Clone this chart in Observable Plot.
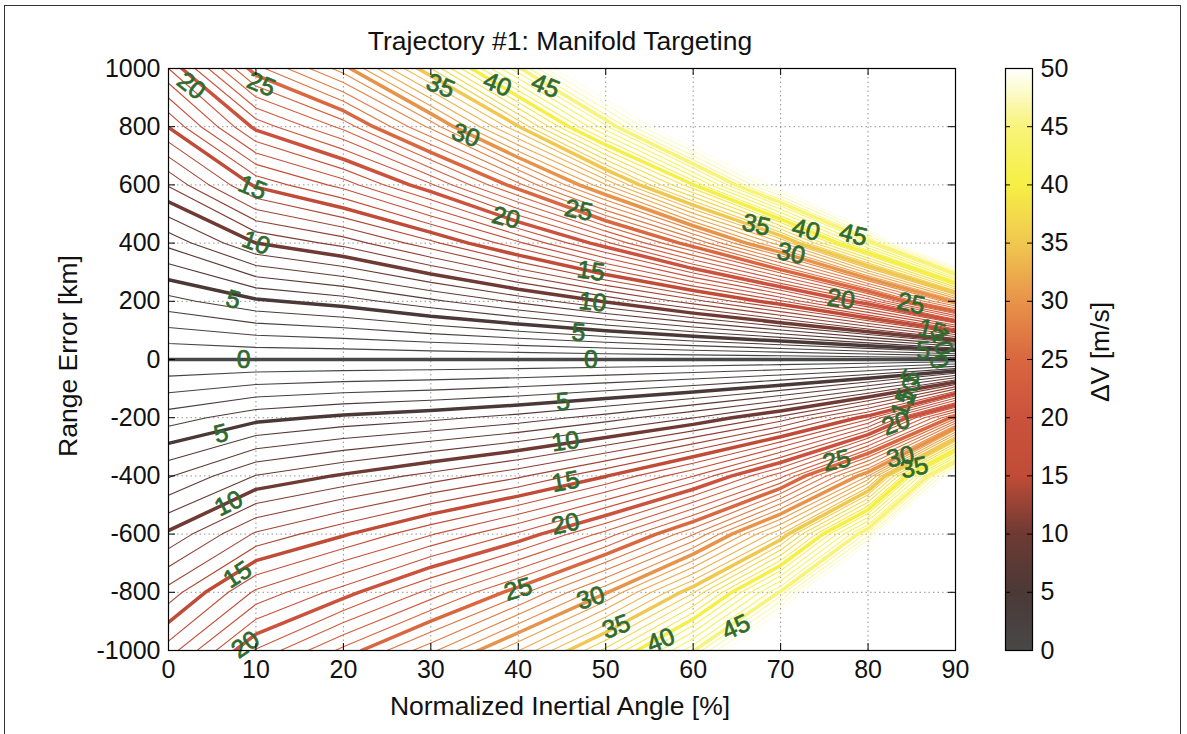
<!DOCTYPE html>
<html>
<head>
<meta charset="utf-8">
<script src="https://cdn.jsdelivr.net/npm/d3@7"></script>
<script src="https://cdn.jsdelivr.net/npm/@observablehq/plot@0.6"></script>
<style>
  html, body { margin: 0; padding: 0; background: #fff; }
  #fig { position: relative; width: 1187px; height: 734px; overflow: hidden;
         font-family: "Liberation Sans", Arial, Helvetica, sans-serif; color: #111; background: #fff; }
  #fig svg { position: absolute; top: 0; }
  .txt { position: absolute; white-space: nowrap; font-size: 26.5px; line-height: 1; }
  #border { position: absolute; left: 4px; top: 5px; width: 1177px; height: 800px;
            border: 1.5px solid #333; box-sizing: border-box; }
</style>
</head>
<body>
<div id="fig">
  <div id="border"></div>
  <div class="txt" id="title" style="left:560px; top:41px; transform:translate(-50%,-50%);">Trajectory #1: Manifold Targeting</div>
  <div class="txt" id="xlabel" style="left:560px; top:706px; transform:translate(-50%,-50%);">Normalized Inertial Angle [%]</div>
  <div class="txt" id="ylabel" style="left:68px; top:356px; transform:translate(-50%,-50%) rotate(-90deg);">Range Error [km]</div>
  <div class="txt" id="cblabel" style="left:1100px; top:352px; transform:translate(-50%,-50%) rotate(-90deg);">ΔV [m/s]</div>
</div>
<script>
// ---- Sampled ΔV field [m/s] ----
// columns: normalized inertial angle [%]
const angleCols = [0, 10, 20, 30, 40, 50, 60, 70, 80, 90];

// rows above zero range error [km] and the ΔV found there
const rangeAbove = [200, 400, 600, 800, 1000];
const dvAbove = [
  [3.64, 4.8, 5.5, 6.74, 8.22, 10.11, 12.55, 15.8, 21.0, 30.4],
  [7.3, 10.0, 11.35, 13.68, 16.76, 20.7, 25.8, 32.7, 43.8, 61.5],
  [11.1, 15.2, 17.4, 20.83, 25.64, 31.9, 39.9, 50.4, 65.9, 92.3],
  [15.05, 20.3, 23.3, 28.27, 34.9, 43.7, 54.05, 67.2, 87.9, 123],
  [19.0, 25.6, 29.5, 35.97, 44.7, 54.9, 67.6, 84.0, 109.9, 154]
];

// rows below zero range error [km] and the ΔV found there
const rangeBelow = [-1000, -800, -600, -400, -200];
const dvBelow = [
  [16.5, 21.1, 24.3, 27.7, 31.95, 37.31, 44.84, 56.5, 77.5, 128.2],
  [13.4, 17.2, 19.5, 22.35, 25.56, 29.85, 35.87, 45.2, 62.0, 102.6],
  [10.2, 13.15, 14.85, 16.9, 19.17, 22.39, 26.91, 33.9, 46.5, 76.9],
  [6.9, 9.05, 10.15, 11.36, 12.78, 14.93, 17.94, 22.6, 31.0, 51.3],
  [3.5, 4.65, 5.25, 5.71, 6.39, 7.46, 8.97, 11.3, 15.5, 25.6]
];

// contour spacing and the labelled (bold) spacing [m/s]
const dvMax = 50;
const minorStep = 1;
const majorStep = 5;

// colormap stops for ΔV
const dvStops = [0, 5, 10, 15, 20, 25, 30, 35, 40, 45, 50];
const dvColors = ["#484848", "#4b3937", "#6e3a33", "#c04c37", "#cb523c", "#d9673f",
                  "#e8934a", "#f0c850", "#f6ef45", "#f8f47a", "#ffffff"];

// axis ticks
const angleTicks = [0, 10, 20, 30, 40, 50, 60, 70, 80, 90];
const rangeTicks = [-1000, -800, -600, -400, -200, 0, 200, 400, 600, 800, 1000];
const dvTicks = [0, 5, 10, 15, 20, 25, 30, 35, 40, 45, 50];

// contour labels: level, angle [%], range error [km], tilt [deg]
const labelLevel = [20, 25, 15, 10, 5, 0, 35, 40, 45, 30, 20, 25, 15, 10, 5, 0,
                    35, 30, 40, 45, 20, 25, 15, 10, 5, 0,
                    5, 10, 15, 20, 5, 10, 15, 20, 25, 30, 35, 40, 45,
                    25, 30, 35, 20, 15, 10, 5];
const labelAngle = [2.6, 10.6, 9.6, 10.0, 7.4, 8.6, 31.1, 37.6, 43.1, 34.0, 38.6, 46.9, 48.3, 48.5, 46.9, 48.3,
                    67.2, 71.2, 72.9, 78.3, 76.9, 84.9, 87.3, 88.4, 86.3, 88.1,
                    6.0, 6.9, 7.9, 8.8, 45.1, 45.4, 45.4, 45.4, 40.0, 48.3, 51.2, 56.3, 64.9,
                    76.4, 83.7, 85.3, 83.2, 84.0, 84.7, 84.9];
const labelRange = [940, 945, 590, 400, 205, 0, 940, 945, 940, 770, 487, 512, 303, 197, 92, 0,
                    462, 364, 445, 428, 207, 192, 100, 62, 28, -8,
                    -255, -495, -740, -980, -146, -282, -420, -565, -790, -820, -918, -965, -920,
                    -348, -335, -372, -220, -150, -108, -62];
const labelTilt = [38, 22, 22, 20, 15, 0, 22, 22, 22, 20, 14, 12, 8, 6, 4, 0,
                   14, 12, 14, 14, 8, 12, 15, 75, 0, 75,
                   -14, -26, -33, -35, -5, -8, -10, -12, -16, -18, -20, -22, -25,
                   -12, -12, -12, -20, -70, -70, -60];

// ---- build the signed field (positive above, negative below zero range error) ----
const nx = angleCols.length;
const fieldRows = [
  ...dvBelow.map(r => r.map(v => -v)),
  angleCols.map(() => 0),
  ...dvAbove
];
const rangeRows = [...rangeBelow, 0, ...rangeAbove];
const ny = rangeRows.length;
const field = fieldRows.flat();
const halfX = (angleCols[1] - angleCols[0]) / 2;
const halfY = (rangeRows[1] - rangeRows[0]) / 2;

const allLevels = d3.range(-dvMax, dvMax + minorStep / 2, minorStep);
const majorLevels = allLevels.filter(v => Math.abs(v) % majorStep === 0 && Math.abs(v) < dvMax);
const minorLevels = allLevels.filter(v => Math.abs(v) % majorStep !== 0);

// mirrored colour scale so that +v and -v share a colour
const mirroredDomain = [...dvStops.slice(1).reverse().map(v => -v), ...dvStops];
const mirroredRange = [...dvColors.slice(1).reverse(), ...dvColors];

const labels = labelLevel.map((lv, i) => ({level: lv, angle: labelAngle[i], range: labelRange[i], tilt: labelTilt[i]}));

const W = 990, H = 734;
const mL = 168, mR = W - 955, mT = 68, mB = H - 650;
const frameW = W - mL - mR, frameH = H - mT - mB;
const tick = 7;
const font = "Liberation Sans, Arial, Helvetica, sans-serif";

const contourBase = {
  value: d => d,
  width: nx, height: ny,
  x1: angleCols[0] - halfX, x2: angleCols[nx - 1] + halfX,
  y1: rangeRows[0] - halfY, y2: rangeRows[ny - 1] + halfY,
  stroke: "value", fill: "none", clip: true,
  strokeLinejoin: "round"
};

const main = Plot.plot({
  width: W, height: H,
  marginLeft: mL, marginRight: mR, marginTop: mT, marginBottom: mB,
  style: {fontFamily: font, fontSize: "25px", color: "#111", background: "transparent"},
  x: {domain: [0, 90]},
  y: {domain: [-1000, 1000]},
  color: {type: "linear", domain: mirroredDomain, range: mirroredRange},
  marks: [
    // dotted grid
    Plot.ruleX(angleTicks, {stroke: "#666", strokeOpacity: 0.7, strokeDasharray: "1.5,3"}),
    Plot.ruleY(rangeTicks, {stroke: "#666", strokeOpacity: 0.7, strokeDasharray: "1.5,3"}),
    // 1 m/s contours
    Plot.contour(field, {...contourBase, thresholds: minorLevels, strokeWidth: 1.1}),
    // labelled 5 m/s contours
    Plot.contour(field, {...contourBase, thresholds: majorLevels, strokeWidth: 3.5}),
    // contour labels
    Plot.text(labels, {x: "angle", y: "range", text: d => String(d.level), rotate: "tilt",
      fill: "#2f6b30", stroke: "#2f6b30", strokeWidth: 0.7, fontSize: 25, fontFamily: font}),
    // inward tick marks on all four sides
    Plot.ruleX(angleTicks, {insetTop: frameH - tick, stroke: "#000"}),
    Plot.ruleX(angleTicks, {insetBottom: frameH - tick, stroke: "#000"}),
    Plot.ruleY(rangeTicks, {insetRight: frameW - tick, stroke: "#000"}),
    Plot.ruleY(rangeTicks, {insetLeft: frameW - tick, stroke: "#000"}),
    Plot.frame({stroke: "#000", strokeWidth: 1.2}),
    Plot.axisX({ticks: angleTicks, tickSize: 0, tickPadding: 10, label: null, tickFormat: d => String(d), fill: "#111"}),
    Plot.axisY({ticks: rangeTicks, tickSize: 0, tickPadding: 8, label: null, tickFormat: d => String(d), fill: "#111"})
  ]
});
main.style.left = "0px";
document.getElementById("fig").appendChild(main);

// ---- colour bar ----
const cbW = 120, cbLeft = 1003;
const cbmL = 2, cbmR = cbW - 2 - 27;
const cbFrameW = cbW - cbmL - cbmR;
const colorbar = Plot.plot({
  width: cbW, height: H,
  marginLeft: cbmL, marginRight: cbmR, marginTop: mT, marginBottom: mB,
  style: {fontFamily: font, fontSize: "25px", color: "#111", background: "transparent"},
  x: {domain: [0, 1], axis: null},
  y: {domain: [0, dvMax], axis: null},
  color: {type: "linear", domain: dvStops, range: dvColors},
  marks: [
    Plot.raster({x1: 0, x2: 1, y1: 0, y2: dvMax, fill: (x, y) => y, pixelSize: 1}),
    Plot.ruleY(dvTicks, {insetRight: cbFrameW - 5, stroke: "#000"}),
    Plot.ruleY(dvTicks, {insetLeft: cbFrameW - 5, stroke: "#000"}),
    Plot.frame({stroke: "#000", strokeWidth: 1.2}),
    Plot.axisY({ticks: dvTicks, anchor: "right", tickSize: 0, tickPadding: 8, label: null, tickFormat: d => String(d), fill: "#111"})
  ]
});
colorbar.style.left = cbLeft + "px";
document.getElementById("fig").appendChild(colorbar);
</script>
</body>
</html>
